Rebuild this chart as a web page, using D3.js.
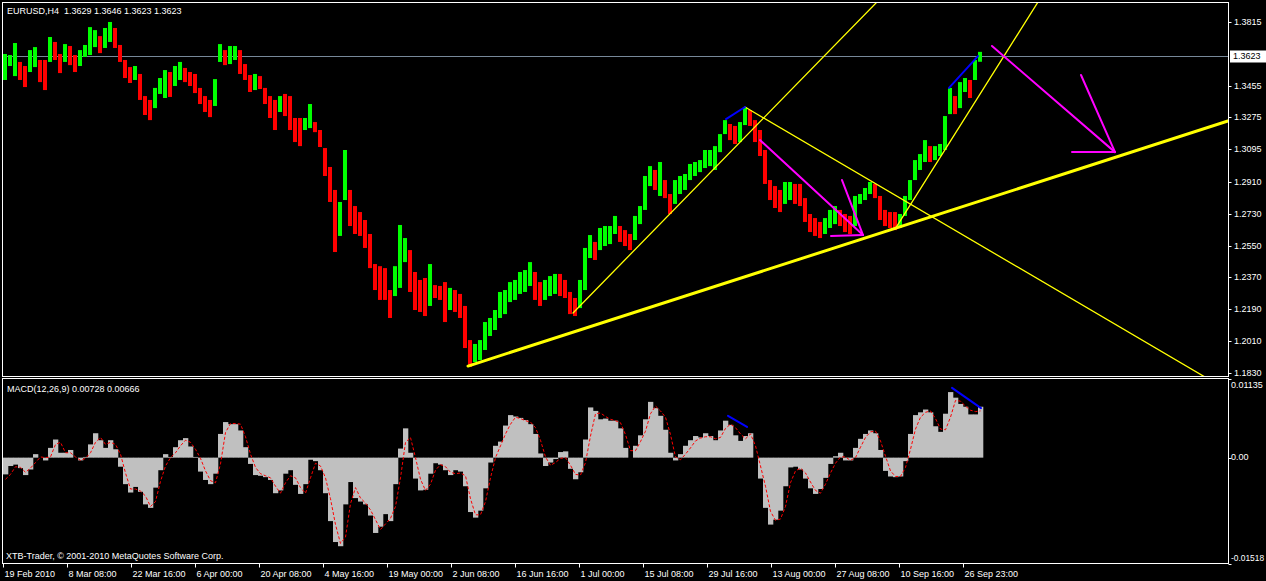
<!DOCTYPE html>
<html><head><meta charset="utf-8">
<script src="https://cdn.jsdelivr.net/npm/d3@7"></script>
<style>
html,body{margin:0;padding:0;background:#000;overflow:hidden}
svg{display:block}
text{font-family:"Liberation Sans",Arial,sans-serif;font-size:9px;fill:#fff}
</style></head><body><svg id="c" width="1266" height="581"></svg>
<script>
// ---------- DATA ----------
const symbolTitle = "EURUSD,H4\u00a0\u00a01.3629 1.3646 1.3623 1.3623";
const macdTitle = "MACD(12,26,9) 0.00728 0.00666";
const copyright = "XTB-Trader, \u00a9 2001-2010 MetaQuotes Software Corp.";
const barsPerGroup = 5; // H4 bars summarised in each drawn bar
const lastPrice = 1.3623;

const xLabels = ["19 Feb 2010","8 Mar 08:00","22 Mar 16:00","6 Apr 00:00","20 Apr 08:00","4 May 16:00","19 May 00:00","2 Jun 08:00","16 Jun 16:00","1 Jul 00:00","15 Jul 08:00","29 Jul 16:00","13 Aug 00:00","27 Aug 08:00","10 Sep 16:00","26 Sep 23:00"];
const xLabelBars = [0,64,128,192,256,320,384,448,512,576,640,704,768,832,896,960];

const priceTicks = [1.3815,1.3455,1.3275,1.3095,1.2910,1.2730,1.2550,1.2370,1.2190,1.2010,1.1830];
const priceTickLabels = ["1.3815","1.3455","1.3275","1.3095","1.2910","1.2730","1.2550","1.2370","1.2190","1.2010","1.1830"];
const macdTicks = [0.01135, 0.00, -0.01518];
const macdTickLabels = ["0.01135","0.00","-0.01518"];

const highs = [
1.3634,1.3628,1.3696,1.3589,1.3566,1.3656,1.3673,1.3600,1.3600,1.3730,
1.3702,1.3634,1.3690,1.3679,1.3628,1.3656,1.3685,1.3786,1.3769,1.3735,
1.3781,1.3815,1.3781,1.3685,1.3600,1.3560,1.3566,1.3521,1.3396,1.3374,
1.3442,1.3498,1.3543,1.3532,1.3566,1.3589,1.3555,1.3532,1.3521,1.3442,
1.3396,1.3374,1.3492,1.3690,1.3656,1.3679,1.3679,1.3656,1.3577,1.3515,
1.3521,1.3509,1.3442,1.3396,1.3374,1.3396,1.3408,1.3396,1.3272,1.3272,
1.3272,1.3351,1.3249,1.3204,1.3102,1.2995,1.2865,1.2797,1.3091,1.2865,
1.2774,1.2740,1.2695,1.2616,1.2446,1.2434,1.2423,1.2299,1.2434,1.2667,
1.2593,1.2525,1.2401,1.2356,1.2367,1.2446,1.2327,1.2322,1.2344,1.2311,
1.2299,1.2277,1.2209,1.2016,1.1994,1.2016,1.2118,1.2141,1.2186,1.2288,
1.2299,1.2344,1.2356,1.2401,1.2412,1.2457,1.2401,1.2344,1.2356,1.2378,
1.2390,1.2390,1.2356,1.2288,1.2254,1.2356,1.2537,1.2610,1.2571,1.2650,
1.2661,1.2661,1.2718,1.2661,1.2638,1.2616,1.2718,1.2774,1.2944,1.3000,
1.2978,1.3023,1.2921,1.2842,1.2921,1.2944,1.2955,1.3012,1.3023,1.3034,
1.3091,1.3091,1.3113,1.3181,1.3260,1.3238,1.3227,1.3249,1.3334,1.3317,
1.3260,1.3204,1.3091,1.2921,1.2887,1.2865,1.2910,1.2910,1.2899,1.2899,
1.2819,1.2729,1.2706,1.2684,1.2706,1.2752,1.2774,1.2752,1.2729,1.2718,
1.2831,1.2842,1.2876,1.2910,1.2899,1.2831,1.2752,1.2740,1.2740,1.2729,
1.2831,1.2921,1.3034,1.3068,1.3147,1.3113,1.3113,1.3125,1.3283,1.3442,
1.3396,1.3475,1.3498,1.3487,1.3600,1.3646];

const lows = [
1.3487,1.3566,1.3509,1.3487,1.3447,1.3532,1.3560,1.3475,1.3430,1.3589,
1.3600,1.3526,1.3589,1.3571,1.3532,1.3566,1.3617,1.3628,1.3673,1.3639,
1.3668,1.3702,1.3668,1.3589,1.3498,1.3470,1.3487,1.3374,1.3289,1.3260,
1.3328,1.3408,1.3385,1.3391,1.3453,1.3487,1.3475,1.3453,1.3413,1.3351,
1.3306,1.3277,1.3340,1.3589,1.3571,1.3577,1.3600,1.3521,1.3487,1.3419,
1.3430,1.3436,1.3351,1.3272,1.3204,1.3306,1.3283,1.3204,1.3136,1.3113,
1.3204,1.3215,1.3192,1.3108,1.2944,1.2797,1.2514,1.2605,1.2808,1.2661,
1.2616,1.2605,1.2537,1.2423,1.2299,1.2243,1.2243,1.2141,1.2265,1.2311,
1.2457,1.2288,1.2186,1.2175,1.2152,1.2209,1.2254,1.2243,1.2118,1.2186,
1.2175,1.2141,1.1971,1.1864,1.1892,1.1903,1.1960,1.2039,1.2073,1.2141,
1.2163,1.2231,1.2243,1.2277,1.2288,1.2322,1.2243,1.2209,1.2243,1.2265,
1.2277,1.2265,1.2254,1.2163,1.2152,1.2197,1.2299,1.2480,1.2469,1.2525,
1.2548,1.2559,1.2616,1.2571,1.2548,1.2525,1.2582,1.2672,1.2752,1.2887,
1.2865,1.2831,1.2819,1.2729,1.2786,1.2842,1.2865,1.2921,1.2944,1.2966,
1.2989,1.3000,1.2978,1.3079,1.3181,1.3147,1.3125,1.3136,1.3232,1.3227,
1.3136,1.3057,1.2899,1.2808,1.2763,1.2740,1.2786,1.2808,1.2786,1.2774,
1.2684,1.2627,1.2605,1.2593,1.2616,1.2650,1.2672,1.2661,1.2627,1.2616,
1.2661,1.2786,1.2808,1.2842,1.2819,1.2695,1.2661,1.2650,1.2638,1.2650,
1.2718,1.2808,1.2921,1.2978,1.3023,1.3023,1.3034,1.3057,1.3091,1.3294,
1.3294,1.3328,1.3419,1.3385,1.3487,1.3590];

const macd = [
-0.0024,-0.0012,-0.0010,-0.0015,-0.0025,-0.0017,0.0005,0.0000,-0.0004,0.0014,
0.0026,0.0007,0.0007,0.0011,0.0000,-0.0004,0.0001,0.0019,0.0035,0.0025,
0.0014,0.0025,0.0012,-0.0013,-0.0038,-0.0050,-0.0042,-0.0049,-0.0067,-0.0072,
-0.0043,-0.0018,0.0005,0.0001,0.0015,0.0025,0.0028,0.0016,0.0001,-0.0020,
-0.0032,-0.0038,-0.0023,0.0034,0.0051,0.0048,0.0048,0.0039,0.0015,-0.0009,
-0.0025,-0.0026,-0.0028,-0.0032,-0.0051,-0.0047,-0.0023,-0.0018,-0.0039,-0.0052,
-0.0038,-0.0003,-0.0005,-0.0018,-0.0051,-0.0091,-0.0121,-0.0127,-0.0067,-0.0035,
-0.0058,-0.0063,-0.0067,-0.0083,-0.0108,-0.0099,-0.0081,-0.0091,-0.0038,0.0013,
0.0042,0.0007,-0.0030,-0.0047,-0.0046,-0.0023,-0.0008,-0.0010,-0.0018,-0.0025,
-0.0018,-0.0020,-0.0041,-0.0078,-0.0086,-0.0076,-0.0044,-0.0007,0.0017,0.0023,
0.0046,0.0061,0.0059,0.0057,0.0054,0.0048,0.0034,0.0006,-0.0012,-0.0007,
-0.0002,0.0008,0.0009,-0.0016,-0.0031,-0.0021,0.0026,0.0072,0.0067,0.0055,
0.0056,0.0053,0.0053,0.0042,0.0014,0.0000,0.0017,0.0032,0.0055,0.0080,
0.0071,0.0060,0.0040,0.0007,-0.0004,0.0005,0.0017,0.0025,0.0031,0.0029,
0.0035,0.0031,0.0025,0.0039,0.0053,0.0047,0.0032,0.0024,0.0031,0.0035,
0.0000,-0.0030,-0.0072,-0.0096,-0.0089,-0.0076,-0.0041,-0.0014,-0.0013,-0.0017,
-0.0030,-0.0044,-0.0052,-0.0045,-0.0029,-0.0009,0.0002,0.0007,-0.0004,-0.0004,
0.0014,0.0027,0.0034,0.0039,0.0035,0.0011,-0.0019,-0.0027,-0.0028,-0.0027,
-0.0005,0.0034,0.0061,0.0065,0.0069,0.0065,0.0045,0.0037,0.0063,0.0094,
0.0086,0.0077,0.0073,0.0062,0.0062,0.0073];

const signal = [
-0.0031,-0.0024,-0.0013,-0.0014,-0.0021,-0.0015,-0.0007,0.0001,0.0000,0.0001,
0.0019,0.0022,0.0007,0.0007,0.0001,-0.0004,-0.0001,0.0007,0.0022,0.0029,
0.0019,0.0022,0.0019,0.0005,-0.0022,-0.0045,-0.0045,-0.0048,-0.0055,-0.0070,
-0.0063,-0.0034,-0.0012,0.0000,0.0007,0.0017,0.0025,0.0022,0.0012,-0.0001,
-0.0019,-0.0033,-0.0036,-0.0009,0.0036,0.0049,0.0049,0.0048,0.0030,0.0005,
-0.0014,-0.0023,-0.0026,-0.0029,-0.0041,-0.0051,-0.0036,-0.0026,-0.0029,-0.0043,
-0.0051,-0.0029,-0.0008,-0.0012,-0.0029,-0.0059,-0.0096,-0.0123,-0.0114,-0.0066,
-0.0043,-0.0058,-0.0065,-0.0075,-0.0089,-0.0103,-0.0095,-0.0087,-0.0070,-0.0029,
0.0022,0.0029,0.0000,-0.0031,-0.0047,-0.0038,-0.0018,-0.0010,-0.0013,-0.0021,
-0.0023,-0.0022,-0.0026,-0.0059,-0.0082,-0.0082,-0.0063,-0.0029,0.0000,0.0017,
0.0034,0.0048,0.0058,0.0056,0.0053,0.0051,0.0043,0.0025,0.0001,-0.0011,
-0.0007,-0.0001,0.0000,-0.0011,-0.0024,-0.0025,-0.0007,0.0031,0.0063,0.0064,
0.0059,0.0055,0.0053,0.0050,0.0033,0.0010,0.0010,0.0023,0.0038,0.0063,
0.0074,0.0067,0.0058,0.0033,0.0001,-0.0003,0.0005,0.0014,0.0024,0.0028,
0.0030,0.0030,0.0027,0.0029,0.0042,0.0048,0.0043,0.0034,0.0027,0.0034,
0.0017,-0.0012,-0.0041,-0.0077,-0.0090,-0.0088,-0.0070,-0.0036,-0.0019,-0.0015,
-0.0022,-0.0035,-0.0047,-0.0051,-0.0038,-0.0022,-0.0008,0.0001,0.0001,-0.0004,
0.0000,0.0015,0.0029,0.0037,0.0038,0.0024,0.0002,-0.0019,-0.0027,-0.0027,
-0.0014,0.0012,0.0041,0.0058,0.0065,0.0067,0.0056,0.0041,0.0040,0.0058,
0.0082,0.0081,0.0074,0.0068,0.0066,0.0067];

// drawn objects: [bar1, price1, bar2, price2]
const thickTrend = [[465,1.1869,1225,1.3255]];
const thinTrends = [[570,1.2169,874,1.3928],[742,1.3334,1202,1.1807],[892,1.2644,1035,1.3928]];
const bluePriceLines = [[723,1.3266,742,1.3334],[946,1.3442,975,1.3622]];
const magentaLines = [
  [757,1.3147,860,1.2610],[839,1.2921,860,1.2610],[828,1.2605,860,1.2610],
  [989,1.3679,1112,1.3079],[1078,1.3515,1112,1.3079],[1069,1.3079,1112,1.3079]];
const blueMacdLines = [[725,0.0060,744,0.0044],[949,0.0100,978,0.0071]];

// ---------- DRAW ----------
const W=1266,H=581;
const L=2.5,R=1228.5,mainTop=2.5,mainBot=376.5,macdTop=378.5,macdBot=563.5;
const svg=d3.select('#c');
svg.append('rect').attr('width',W).attr('height',H).attr('fill','#000');

const x=d3.scaleLinear().domain([0,1225]).range([3,1228]);
const y=d3.scaleLinear().domain([1.1810,1.3928]).range([376.5,2]);
const ym=d3.scaleLinear().domain([-0.01518,0.01135]).range([563.5,378.5]);

const defs=svg.append('defs');
defs.append('clipPath').attr('id','cm').append('rect').attr('x',L).attr('y',mainTop).attr('width',R-L).attr('height',mainBot-mainTop);
defs.append('clipPath').attr('id','cd').append('rect').attr('x',L).attr('y',macdTop).attr('width',R-L).attr('height',macdBot-macdTop);

const gm=svg.append('g').attr('clip-path','url(#cm)');
// current price line
gm.append('line').attr('x1',L).attr('x2',R).attr('y1',Math.round(y(lastPrice))+0.5).attr('y2',Math.round(y(lastPrice))+0.5)
  .attr('stroke','#778899').attr('stroke-width',1);

const bw=x(barsPerGroup)-x(0);
gm.selectAll('rect.bar').data(highs).join('rect').attr('class','bar')
  .attr('x',(d,i)=>x(i*barsPerGroup))
  .attr('width',bw-1)
  .attr('y',d=>y(d))
  .attr('height',(d,i)=>Math.max(1,y(lows[i])-y(d)))
  .attr('fill',(d,i)=>{const m=(d+lows[i])/2;const pm=i?(highs[i-1]+lows[i-1])/2:m;return m>=pm?'#00ff00':'#ff0000';});

function segs(g,data,sc,color,w){
  g.selectAll(null).data(data).join('line')
   .attr('x1',d=>x(d[0])).attr('y1',d=>sc(d[1])).attr('x2',d=>x(d[2])).attr('y2',d=>sc(d[3]))
   .attr('stroke',color).attr('stroke-width',w).attr('stroke-linecap','round');
}
// extend trend lines to panel edges
function extend(d){const s=(d[3]-d[1])/(d[2]-d[0]);const b2=1300;return [d[0],d[1],b2,d[1]+s*(b2-d[0])];}
segs(gm,thickTrend.map(extend),y,'#ffff00',3);
segs(gm,thinTrends.map(extend),y,'#ffff00',1.3);
segs(gm,bluePriceLines,y,'#0000ff',2);
segs(gm,magentaLines,y,'#ff00ff',2);

// MACD panel
const gd=svg.append('g').attr('clip-path','url(#cd)');
gd.selectAll('rect.h').data(macd).join('rect').attr('class','h')
  .attr('x',(d,i)=>x(i*barsPerGroup)).attr('width',bw+0.3)
  .attr('y',d=>Math.min(ym(d),ym(0))).attr('height',d=>Math.abs(ym(d)-ym(0)))
  .attr('fill','#c0c0c0');
gd.append('path').datum(signal)
  .attr('d',d3.line().x((d,i)=>x(i*barsPerGroup+barsPerGroup/2)).y(d=>ym(d)))
  .attr('fill','none').attr('stroke','#ff0000').attr('stroke-width',1).attr('stroke-dasharray','3,2');
segs(gd,blueMacdLines,ym,'#0000ff',2);

// frames
svg.append('rect').attr('x',L).attr('y',mainTop).attr('width',R-L).attr('height',mainBot-mainTop).attr('fill','none').attr('stroke','#fff');
svg.append('rect').attr('x',L).attr('y',macdTop).attr('width',R-L).attr('height',macdBot-macdTop).attr('fill','none').attr('stroke','#fff');

// price axis
priceTicks.forEach((p,k)=>{
  const yy=Math.round(y(p))+0.5;
  svg.append('line').attr('x1',R).attr('x2',R+3).attr('y1',yy).attr('y2',yy).attr('stroke','#fff');
  svg.append('text').attr('x',1234).attr('y',yy).attr('dominant-baseline','middle').text(priceTickLabels[k]);
});
// current price box
const yp=Math.round(y(lastPrice))+0.5;
svg.append('rect').attr('x',1230).attr('y',yp-6).attr('width',36).attr('height',12).attr('fill','#fff');
svg.append('text').attr('x',1233).attr('y',yp).attr('dominant-baseline','middle').style('fill','#000').text(d3.format('.4f')(lastPrice));

// macd axis
macdTicks.forEach((v,k)=>{
  const yy=ym(v);
  let ty=yy, base='middle';
  if(k===0){ty=yy+3;base='hanging';}
  if(k===macdTicks.length-1){ty=yy-3;base='auto';}
  const t=svg.append('text').attr('x',1231).attr('y',ty).attr('dominant-baseline',base).text(macdTickLabels[k]);
  if(k===macdTicks.length-1) t.style('font-size','8.4px');
  svg.append('line').attr('x1',R).attr('x2',R+3).attr('y1',Math.round(yy)+0.5).attr('y2',Math.round(yy)+0.5).attr('stroke','#fff');
});

// time axis
xLabelBars.forEach((b,k)=>{
  const xx=Math.round(x(b))+0.5;
  svg.append('line').attr('x1',xx).attr('x2',xx).attr('y1',macdBot).attr('y2',macdBot+4).attr('stroke','#fff');
  svg.append('text').attr('x',xx+1).attr('y',577).text(xLabels[k]);
});

// titles
svg.append('text').attr('x',7).attr('y',14).text(symbolTitle);
svg.append('text').attr('x',7).attr('y',392).text(macdTitle);
svg.append('text').attr('x',6).attr('y',559).text(copyright);
</script></body></html>
